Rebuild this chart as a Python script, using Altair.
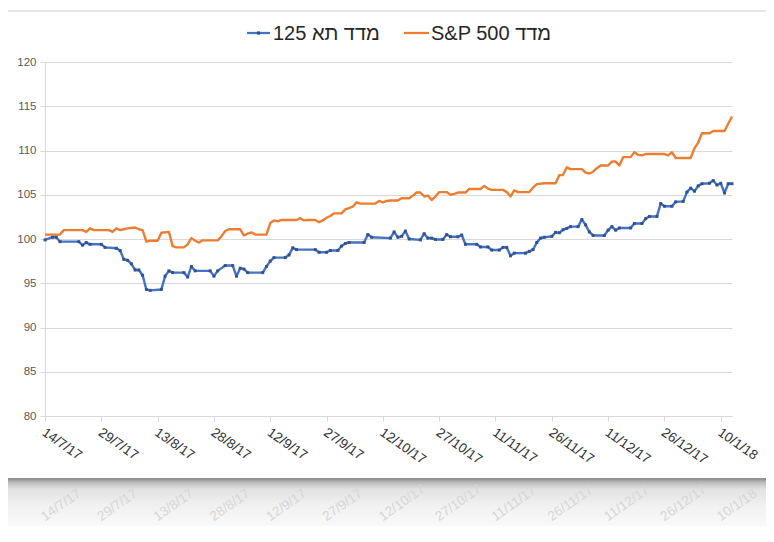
import datetime as dt
import altair as alt
import pandas as pd

# ---------------- data ----------------
START = dt.date(2017, 7, 14)

ta125_name = "מדד תא 125"
sp500_name = "\u202bמדד S&P 500\u202c"

ta125_day = [0, 2, 3, 4, 9, 10, 11, 12, 15, 16, 19, 20, 21, 22, 23, 24, 25, 26, 27, 28,
             31, 32, 33, 34, 37, 38, 39, 40, 44, 45, 46, 48, 50, 51, 52, 53, 54, 58, 59, 60,
             61, 64, 65, 66, 67, 72, 73, 75, 76, 78, 79, 80, 81, 85, 86, 87, 92, 93, 94, 95,
             96, 97, 100, 101, 102, 103, 104, 106, 107, 108, 110, 111, 112, 115, 116, 118, 119,
             121, 122, 123, 124, 125, 128, 129, 130, 131, 132, 133, 135, 136, 137, 138, 139,
             140, 142, 143, 144, 145, 146, 149, 150, 151, 152, 153, 156, 157, 159, 160, 161,
             163, 164, 165, 167, 168, 170, 171, 172, 173, 174, 175, 177, 178, 179, 180, 181,
             182, 183]
ta125_value = [99.9, 100.2, 100.2, 99.7, 99.7, 99.3, 99.6, 99.4, 99.4, 99.05, 98.95, 98.7, 97.7,
               97.6, 97.2, 96.5, 96.5, 95.9, 94.3, 94.2, 94.3, 95.8, 96.4, 96.2, 96.2, 95.7,
               96.9, 96.4, 96.4, 95.8, 96.4, 97.0, 97.0, 95.8, 96.7, 96.6, 96.2, 96.2, 96.9,
               97.5, 97.9, 97.9, 98.2, 99.0, 98.8, 98.8, 98.5, 98.5, 98.7, 98.7, 99.2, 99.5,
               99.6, 99.6, 100.5, 100.2, 100.1, 100.8, 100.2, 100.3, 100.9, 100.0, 99.9, 100.6,
               100.1, 100.1, 99.95, 99.95, 100.5, 100.25, 100.25, 100.45, 99.4, 99.4, 99.1, 99.1,
               98.75, 98.75, 99.05, 99.05, 98.1, 98.4, 98.4, 98.6, 98.8, 99.6, 100.1, 100.2,
               100.3, 100.75, 100.7, 101.05, 101.2, 101.4, 101.4, 102.2, 101.6, 100.8, 100.4,
               100.4, 101.0, 101.4, 101.0, 101.25, 101.25, 101.75, 101.75, 102.3, 102.55, 102.55,
               104.0, 103.7, 103.7, 104.2, 104.25, 105.3, 105.75, 105.4, 106.0, 106.25, 106.3,
               106.6, 106.1, 106.3, 105.2, 106.25, 106.25]

sp500_day = [0, 4, 5, 10, 11, 12, 13, 17, 18, 19, 20, 21, 22, 24, 25, 26, 27, 28, 30, 31, 33,
             34, 35, 37, 38, 39, 40, 41, 42, 46, 47, 48, 49, 52, 53, 54, 55, 56, 59, 60, 61, 62,
             63, 67, 68, 69, 70, 72, 73, 74, 75, 76, 77, 79, 80, 81, 82, 83, 84, 88, 89, 90, 91,
             92, 94, 95, 97, 98, 99, 100, 101, 102, 103, 104, 105, 107, 108, 109, 110, 112, 113,
             116, 117, 118, 119, 122, 123, 124, 125, 126, 129, 130, 131, 133, 136, 137, 138, 139,
             140, 143, 144, 145, 146, 147, 148, 150, 151, 152, 153, 154, 156, 157, 158, 159, 160,
             165, 166, 167, 168, 172, 173, 174, 175, 177, 178, 181, 183]
sp500_value = [100.5, 100.5, 101.0, 101.0, 100.8, 101.2, 101.0, 101.0, 100.8, 101.2, 101.0, 101.1,
               101.2, 101.3, 101.1, 101.0, 99.7, 99.8, 99.8, 100.7, 100.8, 99.2, 99.05, 99.05,
               99.4, 100.1, 99.8, 99.6, 99.85, 99.85, 100.3, 100.9, 101.1, 101.1, 100.4, 100.6,
               100.75, 100.5, 100.5, 101.8, 102.1, 102.0, 102.15, 102.15, 102.35, 102.1, 102.15,
               102.15, 101.9, 102.1, 102.4, 102.6, 102.9, 102.9, 103.35, 103.5, 103.65, 104.15,
               104.0, 104.0, 104.3, 104.15, 104.3, 104.35, 104.35, 104.6, 104.6, 104.9, 105.25,
               105.25, 104.8, 104.9, 104.4, 104.8, 105.3, 105.3, 105.0, 105.1, 105.25, 105.25,
               105.65, 105.65, 106.0, 105.7, 105.55, 105.55, 105.3, 104.8, 105.5, 105.3, 105.3,
               105.8, 106.2, 106.3, 106.3, 107.2, 107.25, 108.1, 107.9, 107.9, 107.5, 107.4,
               107.6, 108.0, 108.3, 108.3, 108.75, 108.75, 108.3, 109.25, 109.25, 109.8, 109.5,
               109.45, 109.6, 109.6, 109.45, 109.8, 109.15, 109.15, 110.25, 110.9, 111.95, 111.95,
               112.2, 112.2, 113.85]

tick_day = [0, 15, 30, 45, 60, 75, 90, 105, 120, 135, 150, 165, 180]
y_ticks = [80, 85, 90, 95, 100, 105, 110, 115, 120]

BLUE = "#4472C4"
ORANGE = "#ED7D31"
FONT = "Liberation Sans"


def to_dates(days):
    return [pd.Timestamp(START) + pd.Timedelta(days=d) for d in days]


def dtobj(d):
    t = START + dt.timedelta(days=d)
    return alt.DateTime(year=t.year, month=t.month, date=t.day)


df = pd.concat([
    pd.DataFrame({"date": to_dates(ta125_day), "value": ta125_value, "series": ta125_name}),
    pd.DataFrame({"date": to_dates(sp500_day), "value": sp500_value, "series": sp500_name}),
], ignore_index=True)

ticks_df = pd.DataFrame({"date": to_dates(tick_day)})

x_enc = alt.X(
    "date:T",
    title=None,
    scale=alt.Scale(domain=[dtobj(0), dtobj(183)]),
    axis=alt.Axis(
        values=[dtobj(d) for d in tick_day],
        format="%-d/%-m/%y",
        labelAngle=35,
        labelAlign="left",
        labelBaseline="top",
        labelFontSize=13.5,
        labelColor="#333333",
        labelFont=FONT,
        labelPadding=4,
        labelOffset=2,
        labelOverlap=False,
        labelBound=False,
        domainColor="#d9d9d9",
        tickColor="#d9d9d9",
        tickSize=5,
        grid=False,
    ),
)
y_enc = alt.Y(
    "value:Q",
    title=None,
    scale=alt.Scale(domain=[80, 120], nice=False, zero=False),
    axis=alt.Axis(
        values=y_ticks,
        labelFontSize=11.5,
        labelColor="#595959",
        labelFont=FONT,
        labelPadding=4,
        domainColor="#d9d9d9",
        tickColor="#d9d9d9",
        tickSize=5,
        gridColor="#d9d9d9",
        gridWidth=1,
    ),
)
color_enc = alt.Color(
    "series:N",
    scale=alt.Scale(domain=[ta125_name, sp500_name], range=[BLUE, ORANGE]),
    legend=None,
)

base = alt.Chart(df)
lines = base.mark_line(strokeWidth=2.4, strokeJoin="round").encode(
    x=x_enc, y=y_enc, color=color_enc, order="date:T"
)
markers = base.transform_filter(alt.datum.series == ta125_name).mark_point(
    shape="square", filled=True, size=9, color="#2F4F86", opacity=0.9
).encode(x="date:T", y="value:Q")

# shadow / reflection area below the chart box
one = pd.DataFrame({"k": [0]})
shadow = alt.Chart(one).mark_rect(
    color=alt.LinearGradient(
        gradient="linear",
        stops=[
            alt.GradientStop(offset=0, color="#858585"),
            alt.GradientStop(offset=0.08, color="#bcbcbc"),
            alt.GradientStop(offset=0.2, color="#e2e2e2"),
            alt.GradientStop(offset=0.5, color="#f1f1f1"),
            alt.GradientStop(offset=1, color="#fdfdfd"),
        ],
        x1=0, x2=0, y1=0, y2=1,
    )
).encode(x=alt.value(-37), x2=alt.value(721), y=alt.value(416), y2=alt.value(472))

reflection = alt.Chart(ticks_df).transform_calculate(
    label="timeFormat(datum.date, '%-d/%-m/%y')"
).mark_text(
    angle=325, align="left", baseline="bottom", fontSize=13.5, font=FONT, color="#d6d6d6", dx=2
).encode(x="date:T", y=alt.value(463), text="label:N")

frame_top = alt.Chart(one).mark_rule(color="#cfcfcf", strokeWidth=1).encode(
    x=alt.value(-37), x2=alt.value(721), y=alt.value(-51)
)

# legend (centered above the plot)
leg_blue_line = alt.Chart(one).mark_rule(color=BLUE, strokeWidth=2.25).encode(
    x=alt.value(202), x2=alt.value(225), y=alt.value(-29)
)
leg_blue_pt = alt.Chart(one).mark_point(
    shape="square", filled=True, size=10, color="#2F4F86", opacity=1
).encode(x=alt.value(213.5), y=alt.value(-29))
leg_blue_txt = alt.Chart(one).mark_text(
    align="left", baseline="middle", fontSize=20, font=FONT, color="#262626"
).encode(x=alt.value(228), y=alt.value(-28), text=alt.value(ta125_name))
leg_or_line = alt.Chart(one).mark_rule(color=ORANGE, strokeWidth=2.25).encode(
    x=alt.value(359), x2=alt.value(384), y=alt.value(-29)
)
leg_or_txt = alt.Chart(one).mark_text(
    align="left", baseline="middle", fontSize=20, font=FONT, color="#262626"
).encode(x=alt.value(386), y=alt.value(-28), text=alt.value(sp500_name))

chart = alt.layer(
    shadow, reflection, lines, markers, frame_top,
    leg_blue_line, leg_blue_pt, leg_blue_txt, leg_or_line, leg_or_txt,
).properties(
    width=687,
    height=354,
    autosize=alt.AutoSizeParams(type="none"),
    padding={"left": 37, "top": 54, "right": 34, "bottom": 110},
    background="white",
).configure_view(stroke=None)

chart.save("out.html", embed_options={"renderer": "svg", "actions": False})
